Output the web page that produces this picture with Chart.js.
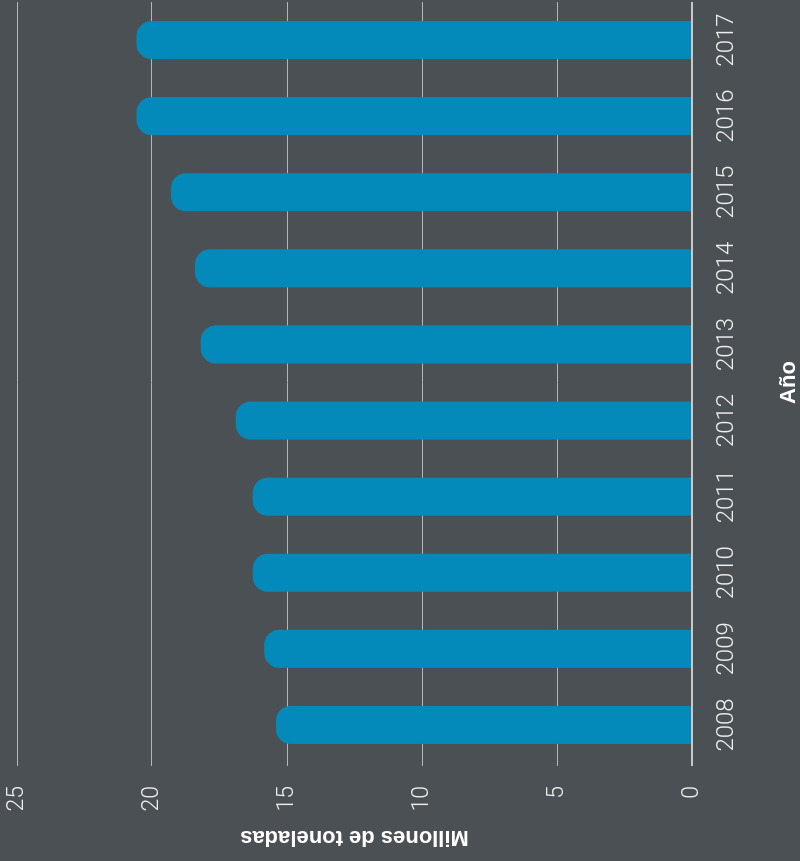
<!DOCTYPE html>
<html>
<head>
<meta charset="utf-8">
<title>Millones de toneladas por año</title>
<script src="https://cdn.jsdelivr.net/npm/chart.js@4.4.1/dist/chart.umd.min.js"></script>
<style>
  html, body { margin: 0; padding: 0; background: #4a5054; overflow: hidden; }
  /* the chart is drawn upright and turned a quarter turn to the left */
  #wrap {
    position: absolute; left: 0; top: 0;
    width: 861px; height: 800px;
    transform-origin: 0 0;
    transform: translateY(861px) rotate(-90deg);
  }
</style>
</head>
<body>
<div id="wrap"><canvas id="chart" width="861" height="800"></canvas></div>
<script>
// data
const years = ['2008', '2009', '2010', '2011', '2012', '2013', '2014', '2015', '2016', '2017'];
const tonnes = [15.41, 15.84, 16.27, 16.27, 16.9, 18.19, 18.41, 19.3, 20.57, 20.57];
const valueTicks = [0, 5, 10, 15, 20, 25];

const tickFont = { family: 'Roboto', size: 24, weight: 300 };
const titleFont = { family: 'Liberation Sans', size: 22, weight: 'bold' };

const ctx = document.getElementById('chart').getContext('2d');
new Chart(ctx, {
  type: 'bar',
  data: {
    labels: years,
    datasets: [{
      label: 'Millones de toneladas',
      data: tonnes,
      backgroundColor: '#038aba',
      borderRadius: 15,
      borderSkipped: 'start',
      categoryPercentage: 1,
      barPercentage: 0.5
    }]
  },
  options: {
    responsive: false,
    animation: false,
    layout: { padding: { top: 17, right: 2, bottom: 0, left: 0 } },
    plugins: {
      legend: { display: false },
      tooltip: { enabled: false }
    },
    scales: {
      x: {
        grid: { display: false, drawTicks: false },
        border: { display: false },
        ticks: { color: '#eceded', font: tickFont, padding: 21, maxRotation: 0, autoSkip: false },
        title: { display: true, text: 'Año', color: '#ffffff', font: titleFont, padding: { top: 0, bottom: -2 } },
        afterFit: s => {
          s.height = 108;
          s.paddingLeft = 0;
          s.paddingRight = 0;
        }
      },
      y: {
        min: 0,
        max: 25,
        afterBuildTicks: s => { s.ticks = valueTicks.map(v => ({ value: v })); },
        grid: {
          drawTicks: true,
          tickLength: 3,
          color: c => c.tick && c.tick.value === 0 ? '#c6c8c9' : '#b3b6b8',
          lineWidth: c => c.tick && c.tick.value === 0 ? 2 : 1
        },
        border: { display: false },
        ticks: { color: '#eceded', font: { family: 'Roboto', size: 23, weight: 300 }, padding: 20 },
        title: { display: true, text: 'Millones de toneladas', color: '#ffffff', font: titleFont, padding: { top: 11, bottom: 0 } },
        afterFit: s => {
          s.width = 98;
          s.paddingTop = 0;
          s.paddingBottom = 0;
        }
      }
    }
  }
});
</script>
</body>
</html>
